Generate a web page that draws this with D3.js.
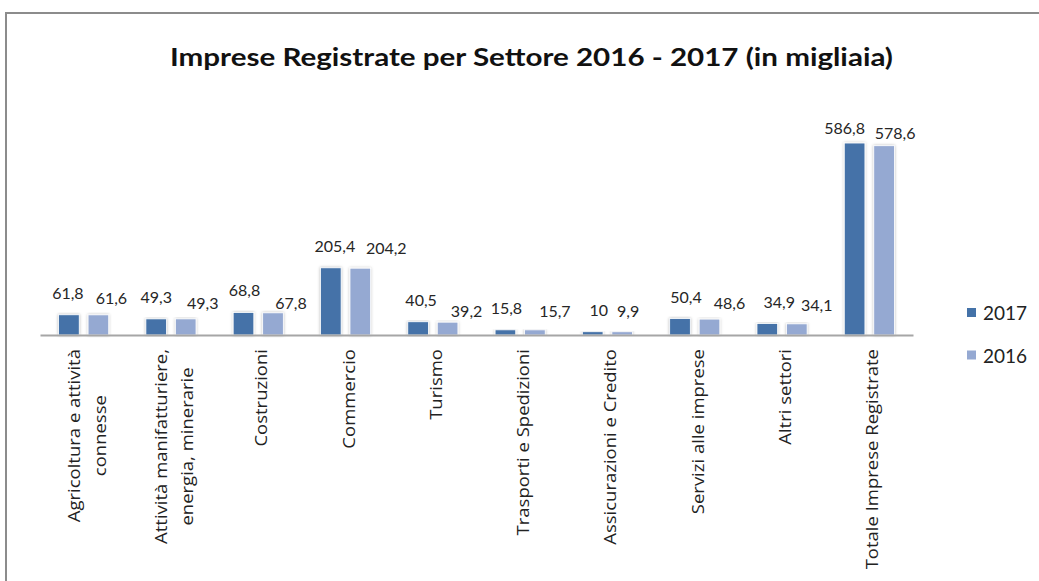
<!DOCTYPE html>
<html lang="it">
<head>
<meta charset="utf-8">
<title>Imprese Registrate per Settore 2016 - 2017</title>
<script src="https://cdn.jsdelivr.net/npm/d3@7"></script>
<style>
  html, body { margin: 0; padding: 0; background: #ffffff; }
  svg { display: block; }
  text { font-family: "Open Sans", "Noto Sans", "DejaVu Sans", sans-serif; }
  .title, .val, .leg { font-family: Lato, "Open Sans", sans-serif; }
</style>
</head>
<body>
<svg id="chart" width="1039" height="581"></svg>
<script>
// Settori economici (a capo dove l'etichetta va su due righe)
const categories = [
  "Agricoltura e attività\nconnesse",
  "Attività manifatturiere,\nenergia, minerarie",
  "Costruzioni",
  "Commercio",
  "Turismo",
  "Trasporti e Spedizioni",
  "Assicurazioni e Credito",
  "Servizi alle imprese",
  "Altri settori",
  "Totale Imprese Registrate"
];

const seriesNames = ["2017", "2016"];

// Imprese registrate, in migliaia
const values2017 = [61.8, 49.3, 68.8, 205.4, 40.5, 15.8, 10, 50.4, 34.9, 586.8];
const values2016 = [61.6, 49.3, 67.8, 204.2, 39.2, 15.7, 9.9, 48.6, 34.1, 578.6];

// Spostamenti manuali delle etichette dati rispetto alla posizione standard [dx, dy]
const labelShift2017 = [[-1,0],[0,0],[1,0],[4,0],[3,0],[1,0],[6,0],[6,0],[12,0],[-10,7]];
const labelShift2016 = [[13,5],[17,6],[18,12],[26,2],[19,11],[20,3],[6,1],[20,6],[20,3],[11,9]];

const colors = { "2017": "#4472A8", "2016": "#95A9D2" };

const fmt = v => String(v).replace(".", ",");

const svg = d3.select("#chart");

// Cornice del grafico
svg.append("path")
  .attr("d", "M6,581 V13 H1039")
  .attr("fill", "none")
  .attr("stroke", "#8c8c8c")
  .attr("stroke-width", 2);

// Titolo
svg.append("text")
  .attr("class", "title")
  .attr("x", 531.5)
  .attr("y", 66)
  .attr("text-anchor", "middle")
  .attr("font-size", 25)
  .attr("font-weight", "bold")
  .attr("fill", "#111")
  .attr("textLength", 723)
  .attr("lengthAdjust", "spacingAndGlyphs")
  .text("Imprese Registrate per Settore 2016 - 2017 (in migliaia)");

// Ombra leggera delle barre
const defs = svg.append("defs");
const f = defs.append("filter").attr("id", "barShadow")
  .attr("x", "-30%").attr("y", "-10%").attr("width", "160%").attr("height", "120%");
f.append("feDropShadow")
  .attr("dx", 0).attr("dy", 0)
  .attr("stdDeviation", 1.6)
  .attr("flood-color", "#000")
  .attr("flood-opacity", 0.28);

// Scale
const x0 = d3.scaleBand()
  .domain(categories)
  .range([40, 913])
  .padding(0);

const x1 = d3.scaleBand()
  .domain(seriesNames)
  .range([0, x0.bandwidth()])
  .paddingInner(0.3)
  .paddingOuter(0.63);

const y = d3.scaleLinear()
  .domain([0, 700])
  .range([335, 106]);

const rows = categories.map((c, i) => ({
  category: c,
  values: [
    { key: "2017", value: values2017[i], shift: labelShift2017[i] },
    { key: "2016", value: values2016[i], shift: labelShift2016[i] }
  ]
}));

// Barre
const groups = svg.append("g").selectAll("g")
  .data(rows)
  .join("g")
  .attr("transform", d => `translate(${x0(d.category)},0)`);

groups.selectAll("rect")
  .data(d => d.values)
  .join("rect")
  .attr("x", d => x1(d.key))
  .attr("y", d => y(d.value))
  .attr("width", x1.bandwidth())
  .attr("height", d => y(0) - y(d.value))
  .attr("fill", d => colors[d.key])
  .attr("stroke", "#ffffff")
  .attr("stroke-width", 0.8)
  .attr("filter", "url(#barShadow)");

// Etichette dati
groups.selectAll("text.val")
  .data(d => d.values)
  .join("text")
  .attr("class", "val")
  .attr("x", d => x1(d.key) + x1.bandwidth() / 2 + d.shift[0])
  .attr("y", d => y(d.value) - 16 + d.shift[1])
  .attr("text-anchor", "middle")
  .attr("font-size", 16)
  .attr("fill", "#262626")
  .text(d => fmt(d.value));

// Asse orizzontale
const axis = svg.append("g")
  .attr("transform", `translate(0,${y(0)})`)
  .call(d3.axisBottom(x0).tickSize(0).tickSizeOuter(0).tickFormat(""));
axis.select(".domain")
  .attr("stroke", "#a6a6a6")
  .attr("stroke-width", 2);
axis.selectAll(".tick").remove();

// Etichette categorie ruotate
const labelTop = 349;
const lineGap = 26;
const catLabels = svg.append("g");
categories.forEach(c => {
  const lines = c.split("\n");
  const cx = x0(c) + x0.bandwidth() / 2 + 3;
  const g = catLabels.append("g")
    .attr("transform", `translate(${cx},${labelTop}) scale(0.86,1) rotate(-90)`);
  const texts = lines.map((line, i) =>
    g.append("text")
      .attr("font-size", 18.5)
      .attr("fill", "#222")
      .attr("dominant-baseline", "central")
      .attr("y", (i - (lines.length - 1) / 2) * lineGap / 0.86)
      .text(line)
  );
  const widths = texts.map(t => t.node().getComputedTextLength());
  const w = d3.max(widths);
  texts.forEach(t => t.attr("text-anchor", "middle").attr("x", -w / 2));
});

// Legenda
const legend = svg.append("g");
seriesNames.forEach((s, i) => {
  const ly = 312.5 + i * 42.5;
  legend.append("rect")
    .attr("x", 967).attr("y", ly - 4.5)
    .attr("width", 9).attr("height", 9)
    .attr("fill", colors[s]);
  legend.append("text")
    .attr("class", "leg")
    .attr("x", 983).attr("y", ly)
    .attr("dominant-baseline", "central")
    .attr("font-size", 19)
    .attr("fill", "#222")
    .text(s);
});
</script>
</body>
</html>
